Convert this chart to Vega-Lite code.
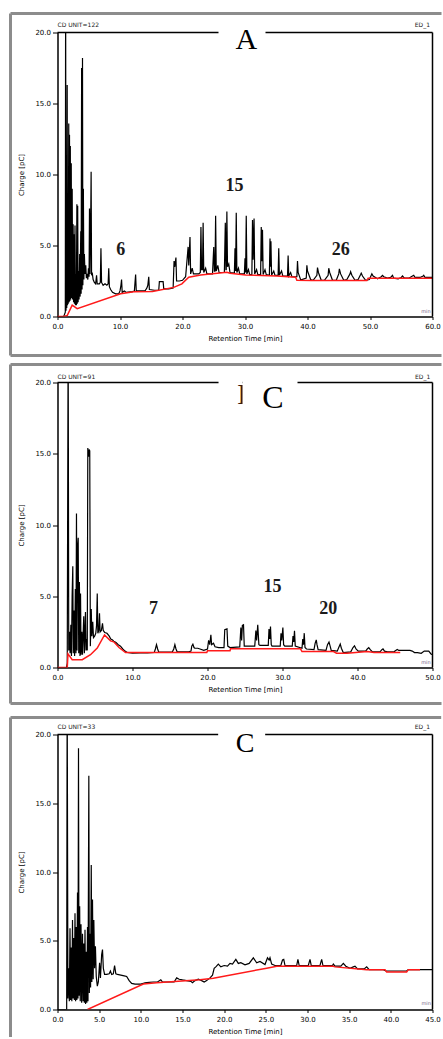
{
"$schema": "https://vega.github.io/schema/vega-lite/v6.json",
"background": "white",
"padding": {"left": 8.5, "top": 11.5, "right": 0, "bottom": 0},
"autosize": {"type": "pad"},
"data": {"values": [{"one": 1}]},
"config": {
 "view": {"stroke": null},
 "axis": {"domainColor": "black", "domainWidth": 1.5, "tickColor": "black", "tickWidth": 1, "labelColor": "black", "labelFont": "DejaVu Sans", "labelFontSize": 7, "titleFont": "DejaVu Sans", "titleFontSize": 7, "titleFontWeight": "normal", "titleColor": "black", "grid": false, "labelOverlap": false, "labelFlush": false}
},
"datasets": {
 "sigA": [{"t":0,"v":0},{"t":1.0,"v":0},{"t":1.25,"v":0.3},{"t":1.3,"v":24},{"t":1.36,"v":0.4},{"t":1.42,"v":2.5},{"t":1.48,"v":0.6},{"t":1.55,"v":16.3},{"t":1.6,"v":0.8},{"t":1.66,"v":2.8},{"t":1.72,"v":0.9},{"t":1.8,"v":13.6},{"t":1.86,"v":1.0},{"t":1.92,"v":12.8},{"t":1.98,"v":1.1},{"t":2.05,"v":12.0},{"t":2.12,"v":1.2},{"t":2.2,"v":10.8},{"t":2.27,"v":1.3},{"t":2.35,"v":9.0},{"t":2.42,"v":1.2},{"t":2.5,"v":6.5},{"t":2.57,"v":1.0},{"t":2.64,"v":5.8},{"t":2.71,"v":0.9},{"t":2.8,"v":6.4},{"t":2.87,"v":0.8},{"t":2.95,"v":3.0},{"t":3.02,"v":0.8},{"t":3.1,"v":7.9},{"t":3.16,"v":0.9},{"t":3.23,"v":7.8},{"t":3.3,"v":1.0},{"t":3.38,"v":3.2},{"t":3.45,"v":1.2},{"t":3.55,"v":4.4},{"t":3.62,"v":1.4},{"t":3.72,"v":6.0},{"t":3.78,"v":1.6},{"t":3.86,"v":17.5},{"t":3.93,"v":1.9},{"t":4.0,"v":18.2},{"t":4.06,"v":2.2},{"t":4.14,"v":9.0},{"t":4.22,"v":2.6},{"t":4.3,"v":4.4},{"t":4.4,"v":3.0},{"t":4.52,"v":3.6},{"t":4.62,"v":2.7},{"t":4.75,"v":3.0},{"t":4.85,"v":2.6},{"t":4.95,"v":3.4},{"t":5.05,"v":2.8},{"t":5.12,"v":7.6},{"t":5.2,"v":3.0},{"t":5.3,"v":6.2},{"t":5.38,"v":10.2},{"t":5.45,"v":2.9},{"t":5.55,"v":3.1},{"t":5.7,"v":2.6},{"t":5.9,"v":2.4},{"t":6.1,"v":2.3},{"t":6.25,"v":2.9},{"t":6.35,"v":2.3},{"t":6.7,"v":2.3},{"t":6.85,"v":2.4},{"t":6.95,"v":4.8},{"t":7.05,"v":2.4},{"t":7.3,"v":2.2},{"t":7.6,"v":2.3},{"t":7.9,"v":2.2},{"t":8.1,"v":2.3},{"t":8.2,"v":3.4},{"t":8.3,"v":2.1},{"t":8.5,"v":1.9},{"t":8.8,"v":1.7},{"t":9.3,"v":1.6},{"t":9.8,"v":1.6},{"t":10.0,"v":1.8},{"t":10.15,"v":2.2},{"t":10.25,"v":2.6},{"t":10.35,"v":1.7},{"t":10.7,"v":1.8},{"t":11.0,"v":1.7},{"t":12.0,"v":1.75},{"t":12.3,"v":1.8},{"t":12.4,"v":2.4},{"t":12.5,"v":2.95},{"t":12.6,"v":1.8},{"t":13.2,"v":1.8},{"t":14.0,"v":1.8},{"t":14.3,"v":2.0},{"t":14.45,"v":2.2},{"t":14.6,"v":2.8},{"t":14.7,"v":1.9},{"t":15.5,"v":1.85},{"t":16.2,"v":1.85},{"t":16.3,"v":2.45},{"t":16.9,"v":2.45},{"t":17.0,"v":1.95},{"t":17.8,"v":1.95},{"t":18.5,"v":2.0},{"t":18.65,"v":3.9},{"t":18.75,"v":3.5},{"t":18.95,"v":4.15},{"t":19.05,"v":2.5},{"t":19.5,"v":2.5},{"t":20.0,"v":2.55},{"t":20.5,"v":2.8},{"t":20.9,"v":4.9},{"t":21.0,"v":3.6},{"t":21.2,"v":5.6},{"t":21.3,"v":3.0},{"t":21.55,"v":3.4},{"t":21.75,"v":3.0},{"t":22.6,"v":3.0},{"t":22.85,"v":3.1},{"t":22.95,"v":6.3},{"t":23.05,"v":3.3},{"t":23.2,"v":3.3},{"t":23.3,"v":6.6},{"t":23.4,"v":3.1},{"t":23.7,"v":3.4},{"t":23.9,"v":3.0},{"t":24.8,"v":3.0},{"t":25.0,"v":4.9},{"t":25.1,"v":3.2},{"t":25.2,"v":3.2},{"t":25.3,"v":7.1},{"t":25.4,"v":3.2},{"t":25.65,"v":3.6},{"t":25.85,"v":3.1},{"t":26.7,"v":3.1},{"t":26.85,"v":6.6},{"t":26.95,"v":3.3},{"t":27.0,"v":3.3},{"t":27.1,"v":7.4},{"t":27.2,"v":3.5},{"t":27.4,"v":3.7},{"t":27.6,"v":3.1},{"t":28.3,"v":3.05},{"t":28.4,"v":4.8},{"t":28.5,"v":3.2},{"t":28.6,"v":7.3},{"t":28.7,"v":3.1},{"t":28.95,"v":3.4},{"t":29.15,"v":3.0},{"t":29.9,"v":3.0},{"t":30.0,"v":4.1},{"t":30.1,"v":3.1},{"t":30.2,"v":7.1},{"t":30.3,"v":3.0},{"t":30.55,"v":3.3},{"t":30.75,"v":2.95},{"t":31.1,"v":2.95},{"t":31.2,"v":6.8},{"t":31.3,"v":4.0},{"t":31.45,"v":6.9},{"t":31.55,"v":3.0},{"t":31.85,"v":3.3},{"t":32.05,"v":2.95},{"t":32.5,"v":2.95},{"t":32.6,"v":6.3},{"t":32.7,"v":3.9},{"t":32.8,"v":6.1},{"t":32.9,"v":2.95},{"t":33.2,"v":3.3},{"t":33.4,"v":2.95},{"t":33.9,"v":2.9},{"t":34.0,"v":5.5},{"t":34.1,"v":3.5},{"t":34.15,"v":5.3},{"t":34.25,"v":2.9},{"t":34.6,"v":3.2},{"t":34.8,"v":2.9},{"t":35.3,"v":2.9},{"t":35.4,"v":4.8},{"t":35.5,"v":2.9},{"t":35.85,"v":3.2},{"t":36.05,"v":2.85},{"t":36.8,"v":2.85},{"t":36.9,"v":4.3},{"t":37.0,"v":2.85},{"t":37.3,"v":3.1},{"t":37.5,"v":2.8},{"t":38.3,"v":2.8},{"t":38.4,"v":3.9},{"t":38.5,"v":3.1},{"t":38.9,"v":2.6},{"t":39.1,"v":2.6},{"t":39.8,"v":2.7},{"t":39.9,"v":3.6},{"t":40.0,"v":3.2},{"t":40.5,"v":2.6},{"t":40.9,"v":2.55},{"t":41.5,"v":2.9},{"t":41.6,"v":3.45},{"t":41.75,"v":3.1},{"t":42.2,"v":2.55},{"t":42.7,"v":2.55},{"t":43.3,"v":2.9},{"t":43.4,"v":3.4},{"t":43.55,"v":3.1},{"t":44.0,"v":2.55},{"t":44.6,"v":2.55},{"t":45.0,"v":3.0},{"t":45.1,"v":3.35},{"t":45.3,"v":3.0},{"t":45.8,"v":2.55},{"t":46.3,"v":2.6},{"t":46.8,"v":3.0},{"t":46.9,"v":3.15},{"t":47.1,"v":2.9},{"t":47.6,"v":2.55},{"t":48.1,"v":2.6},{"t":48.5,"v":2.95},{"t":48.6,"v":3.05},{"t":48.8,"v":2.85},{"t":49.3,"v":2.55},{"t":49.9,"v":2.6},{"t":50.2,"v":2.9},{"t":50.3,"v":3.0},{"t":50.5,"v":2.85},{"t":51.2,"v":2.65},{"t":51.8,"v":2.8},{"t":52.0,"v":2.9},{"t":52.2,"v":2.8},{"t":52.8,"v":2.7},{"t":53.3,"v":2.75},{"t":53.6,"v":2.9},{"t":53.8,"v":2.7},{"t":54.5,"v":2.65},{"t":55.0,"v":2.75},{"t":55.2,"v":2.85},{"t":55.5,"v":2.7},{"t":56.2,"v":2.7},{"t":56.8,"v":2.85},{"t":57.0,"v":2.9},{"t":57.2,"v":2.75},{"t":58.0,"v":2.75},{"t":58.5,"v":2.85},{"t":58.6,"v":2.9},{"t":58.8,"v":2.75},{"t":59.5,"v":2.75},{"t":60,"v":2.75}],
 "baseA": [{"t":0,"v":0},{"t":1.0,"v":0},{"t":1.55,"v":0.07},{"t":2.35,"v":0.8},{"t":3.15,"v":0.55},{"t":10.1,"v":1.6},{"t":12.2,"v":1.75},{"t":15.2,"v":1.76},{"t":18.6,"v":2.05},{"t":19.9,"v":2.3},{"t":21.0,"v":2.77},{"t":22.9,"v":2.93},{"t":27.1,"v":3.12},{"t":27.6,"v":3.05},{"t":30.1,"v":2.93},{"t":35.1,"v":2.85},{"t":38.1,"v":2.77},{"t":38.3,"v":2.55},{"t":40.7,"v":2.53},{"t":49.5,"v":2.53},{"t":49.7,"v":2.7},{"t":52.2,"v":2.7},{"t":60,"v":2.7}],
 "labA": [{"t":28.3,"v":8.87,"label":"15"},{"t":10.1,"v":4.3,"label":"6"},{"t":45.3,"v":4.3,"label":"26"}],
 "sigB": [{"t":0,"v":0},{"t":1.2,"v":0},{"t":1.3,"v":0.3},{"t":1.42,"v":24},{"t":1.5,"v":1.2},{"t":1.6,"v":2.5},{"t":1.68,"v":1.0},{"t":1.78,"v":3.0},{"t":1.86,"v":0.8},{"t":1.95,"v":5.0},{"t":2.04,"v":7.1},{"t":2.1,"v":1.0},{"t":2.2,"v":4.0},{"t":2.28,"v":0.8},{"t":2.38,"v":5.5},{"t":2.46,"v":1.0},{"t":2.53,"v":10.8},{"t":2.6,"v":1.2},{"t":2.68,"v":8.5},{"t":2.76,"v":9.1},{"t":2.83,"v":1.0},{"t":2.92,"v":6.0},{"t":3.0,"v":0.8},{"t":3.07,"v":5.2},{"t":3.14,"v":0.9},{"t":3.25,"v":2.5},{"t":3.33,"v":0.9},{"t":3.5,"v":3.6},{"t":3.58,"v":1.0},{"t":3.73,"v":3.9},{"t":3.8,"v":1.2},{"t":3.9,"v":2.0},{"t":3.97,"v":1.2},{"t":4.04,"v":15.4},{"t":4.15,"v":14.8},{"t":4.22,"v":15.3},{"t":4.3,"v":15.2},{"t":4.38,"v":1.5},{"t":4.5,"v":4.1},{"t":4.58,"v":2.2},{"t":4.7,"v":3.2},{"t":4.8,"v":2.1},{"t":4.95,"v":2.2},{"t":5.1,"v":2.4},{"t":5.2,"v":2.9},{"t":5.3,"v":5.2},{"t":5.38,"v":2.4},{"t":5.5,"v":2.6},{"t":5.6,"v":3.8},{"t":5.68,"v":2.5},{"t":5.85,"v":2.6},{"t":6.0,"v":3.1},{"t":6.1,"v":2.6},{"t":6.3,"v":2.45},{"t":6.6,"v":2.4},{"t":6.9,"v":2.2},{"t":7.1,"v":2.0},{"t":7.3,"v":1.95},{"t":7.5,"v":1.85},{"t":7.8,"v":1.75},{"t":8.1,"v":1.6},{"t":8.4,"v":1.5},{"t":8.7,"v":1.3},{"t":9.0,"v":1.15},{"t":9.3,"v":1.05},{"t":10.0,"v":1.0},{"t":11.0,"v":1.02},{"t":12.0,"v":1.02},{"t":12.9,"v":1.05},{"t":13.05,"v":1.3},{"t":13.2,"v":1.6},{"t":13.35,"v":1.3},{"t":13.5,"v":1.08},{"t":15.3,"v":1.08},{"t":15.5,"v":1.3},{"t":15.65,"v":1.6},{"t":15.8,"v":1.3},{"t":15.95,"v":1.1},{"t":17.5,"v":1.1},{"t":17.8,"v":1.15},{"t":17.9,"v":1.5},{"t":18.05,"v":1.64},{"t":18.2,"v":1.4},{"t":18.3,"v":1.35},{"t":18.7,"v":1.35},{"t":19.0,"v":1.3},{"t":19.5,"v":1.2},{"t":20.0,"v":1.3},{"t":20.15,"v":1.9},{"t":20.3,"v":1.6},{"t":20.45,"v":2.29},{"t":20.55,"v":1.6},{"t":20.8,"v":1.7},{"t":21.0,"v":1.45},{"t":21.5,"v":1.4},{"t":22.2,"v":1.4},{"t":22.3,"v":2.65},{"t":22.6,"v":2.71},{"t":22.7,"v":1.5},{"t":23.0,"v":1.4},{"t":24.3,"v":1.45},{"t":24.45,"v":2.8},{"t":24.55,"v":1.9},{"t":24.65,"v":2.95},{"t":24.8,"v":3.0},{"t":24.9,"v":1.5},{"t":25.0,"v":1.5},{"t":26.3,"v":1.5},{"t":26.45,"v":2.6},{"t":26.55,"v":1.9},{"t":26.7,"v":3.0},{"t":26.85,"v":1.6},{"t":27.0,"v":1.55},{"t":28.1,"v":1.55},{"t":28.2,"v":2.7},{"t":28.3,"v":2.0},{"t":28.4,"v":2.88},{"t":28.5,"v":1.6},{"t":28.6,"v":1.5},{"t":29.7,"v":1.5},{"t":29.8,"v":2.4},{"t":29.9,"v":1.9},{"t":30.05,"v":2.8},{"t":30.15,"v":1.6},{"t":30.3,"v":1.5},{"t":31.3,"v":1.5},{"t":31.4,"v":2.2},{"t":31.5,"v":1.8},{"t":31.6,"v":2.57},{"t":31.7,"v":1.5},{"t":32.6,"v":1.35},{"t":32.7,"v":2.0},{"t":32.8,"v":1.6},{"t":32.9,"v":2.41},{"t":33.0,"v":1.4},{"t":33.2,"v":1.3},{"t":34.2,"v":1.25},{"t":34.35,"v":1.7},{"t":34.5,"v":1.94},{"t":34.6,"v":1.6},{"t":34.75,"v":1.25},{"t":35.8,"v":1.2},{"t":36.0,"v":1.6},{"t":36.2,"v":1.78},{"t":36.35,"v":1.5},{"t":36.5,"v":1.2},{"t":37.3,"v":1.15},{"t":37.5,"v":1.4},{"t":37.7,"v":1.64},{"t":37.85,"v":1.35},{"t":38.1,"v":1.05},{"t":39.1,"v":1.1},{"t":39.4,"v":1.4},{"t":39.6,"v":1.52},{"t":39.8,"v":1.3},{"t":40.1,"v":1.15},{"t":41.1,"v":1.15},{"t":41.3,"v":1.3},{"t":41.5,"v":1.4},{"t":41.7,"v":1.25},{"t":42.0,"v":1.1},{"t":43.0,"v":1.1},{"t":43.25,"v":1.25},{"t":43.4,"v":1.31},{"t":43.6,"v":1.15},{"t":44.0,"v":1.1},{"t":44.9,"v":1.12},{"t":45.1,"v":1.2},{"t":45.3,"v":1.26},{"t":45.5,"v":1.2},{"t":46.2,"v":1.2},{"t":47.0,"v":1.2},{"t":47.3,"v":1.15},{"t":47.6,"v":1.05},{"t":48.0,"v":1.05},{"t":48.5,"v":1.0},{"t":48.9,"v":1.15},{"t":49.5,"v":1.15},{"t":49.8,"v":0.95},{"t":50,"v":0.9}],
 "baseB": [{"t":0,"v":0},{"t":1.3,"v":0},{"t":1.4,"v":0.96},{"t":1.96,"v":0.55},{"t":3.3,"v":0.55},{"t":4.4,"v":0.9},{"t":5.3,"v":1.36},{"t":6.27,"v":2.29},{"t":7.07,"v":1.87},{"t":7.5,"v":1.8},{"t":8.2,"v":1.4},{"t":9.07,"v":1.05},{"t":12.4,"v":1.05},{"t":19.9,"v":1.05},{"t":20.0,"v":1.17},{"t":23.0,"v":1.17},{"t":23.07,"v":1.31},{"t":32.4,"v":1.31},{"t":32.6,"v":1.12},{"t":36.8,"v":1.12},{"t":37.2,"v":1.0},{"t":38.6,"v":1.0},{"t":41.3,"v":1.12},{"t":42.2,"v":1.05},{"t":45.7,"v":1.05}],
 "labB": [{"t":28.67,"v":5.33,"label":"15"},{"t":12.8,"v":3.72,"label":"7"},{"t":36.1,"v":3.72,"label":"20"}],
 "sigC": [{"t":0,"v":0},{"t":1.1,"v":0},{"t":1.16,"v":24},{"t":1.25,"v":0.8},{"t":1.35,"v":3.0},{"t":1.42,"v":0.6},{"t":1.5,"v":5.9},{"t":1.57,"v":0.7},{"t":1.65,"v":4.5},{"t":1.72,"v":0.6},{"t":1.8,"v":6.5},{"t":1.87,"v":0.8},{"t":1.95,"v":5.2},{"t":2.02,"v":0.7},{"t":2.1,"v":7.0},{"t":2.17,"v":0.6},{"t":2.25,"v":6.0},{"t":2.32,"v":0.7},{"t":2.4,"v":8.5},{"t":2.46,"v":0.8},{"t":2.52,"v":19.0},{"t":2.58,"v":1.0},{"t":2.66,"v":7.5},{"t":2.73,"v":0.6},{"t":2.82,"v":6.2},{"t":2.9,"v":0.5},{"t":3.0,"v":5.5},{"t":3.07,"v":0.6},{"t":3.15,"v":4.8},{"t":3.22,"v":0.5},{"t":3.3,"v":5.8},{"t":3.37,"v":0.4},{"t":3.45,"v":4.2},{"t":3.52,"v":0.5},{"t":3.6,"v":6.0},{"t":3.66,"v":0.6},{"t":3.76,"v":17.0},{"t":3.82,"v":1.2},{"t":3.9,"v":5.5},{"t":3.97,"v":1.6},{"t":4.05,"v":10.5},{"t":4.12,"v":2.0},{"t":4.2,"v":8.0},{"t":4.28,"v":2.2},{"t":4.36,"v":6.5},{"t":4.45,"v":3.0},{"t":4.55,"v":4.6},{"t":4.65,"v":2.4},{"t":4.78,"v":1.7},{"t":4.9,"v":2.0},{"t":5.05,"v":3.4},{"t":5.15,"v":2.3},{"t":5.3,"v":4.0},{"t":5.4,"v":4.36},{"t":5.5,"v":3.0},{"t":5.65,"v":2.55},{"t":5.9,"v":2.55},{"t":6.2,"v":2.6},{"t":6.35,"v":2.8},{"t":6.5,"v":2.55},{"t":6.7,"v":2.6},{"t":6.85,"v":3.2},{"t":7.0,"v":2.6},{"t":7.2,"v":2.55},{"t":7.6,"v":2.5},{"t":8.0,"v":2.45},{"t":8.3,"v":2.4},{"t":8.6,"v":2.1},{"t":8.9,"v":1.9},{"t":9.3,"v":1.85},{"t":10.0,"v":1.85},{"t":10.5,"v":1.94},{"t":11.0,"v":1.97},{"t":11.5,"v":2.0},{"t":12.0,"v":2.0},{"t":12.4,"v":2.16},{"t":12.6,"v":2.0},{"t":13.2,"v":2.0},{"t":14.0,"v":2.0},{"t":14.3,"v":2.3},{"t":14.6,"v":2.2},{"t":15.0,"v":2.15},{"t":15.5,"v":2.1},{"t":16.0,"v":2.05},{"t":16.2,"v":1.95},{"t":16.5,"v":2.1},{"t":16.9,"v":2.2},{"t":17.3,"v":2.1},{"t":17.6,"v":2.0},{"t":17.9,"v":2.1},{"t":18.3,"v":2.3},{"t":18.6,"v":2.5},{"t":18.8,"v":3.0},{"t":19.0,"v":3.1},{"t":19.3,"v":3.3},{"t":19.6,"v":3.1},{"t":20.0,"v":3.2},{"t":20.4,"v":3.15},{"t":20.7,"v":3.35},{"t":21.0,"v":3.3},{"t":21.4,"v":3.64},{"t":21.7,"v":3.35},{"t":22.0,"v":3.4},{"t":22.5,"v":3.25},{"t":23.0,"v":3.35},{"t":23.5,"v":3.76},{"t":23.9,"v":3.4},{"t":24.3,"v":3.5},{"t":24.9,"v":3.27},{"t":25.2,"v":3.76},{"t":25.4,"v":3.6},{"t":25.5,"v":3.76},{"t":25.7,"v":3.3},{"t":26.1,"v":3.2},{"t":26.8,"v":3.2},{"t":27.0,"v":3.6},{"t":27.15,"v":3.64},{"t":27.3,"v":3.2},{"t":27.9,"v":3.2},{"t":28.7,"v":3.2},{"t":28.85,"v":3.64},{"t":29.0,"v":3.2},{"t":29.5,"v":3.2},{"t":30.1,"v":3.2},{"t":30.3,"v":3.64},{"t":30.45,"v":3.2},{"t":30.9,"v":3.2},{"t":31.5,"v":3.2},{"t":31.7,"v":3.64},{"t":31.85,"v":3.2},{"t":32.3,"v":3.2},{"t":33.0,"v":3.2},{"t":33.1,"v":3.3},{"t":33.3,"v":3.15},{"t":34.0,"v":3.15},{"t":34.3,"v":3.35},{"t":34.6,"v":3.15},{"t":35.1,"v":3.0},{"t":35.5,"v":3.1},{"t":35.7,"v":3.15},{"t":36.0,"v":2.95},{"t":36.8,"v":2.95},{"t":37.1,"v":3.1},{"t":37.4,"v":2.9},{"t":38.0,"v":2.9},{"t":39.1,"v":2.9},{"t":39.4,"v":2.8},{"t":41.9,"v":2.8},{"t":42.1,"v":2.9},{"t":43.5,"v":2.9},{"t":45.0,"v":2.9}],
 "baseC": [{"t":3.6,"v":0},{"t":10.3,"v":1.85},{"t":11.9,"v":1.94},{"t":17.1,"v":2.16},{"t":18.7,"v":2.28},{"t":25.1,"v":3.0},{"t":26.3,"v":3.15},{"t":33.1,"v":3.15},{"t":33.3,"v":3.1},{"t":37.1,"v":2.9},{"t":39.3,"v":2.9},{"t":39.5,"v":2.73},{"t":41.9,"v":2.73},{"t":42.1,"v":2.9},{"t":43.5,"v":2.9}]
},
"spacing": 10,
"vconcat": [
{
 "spacing": 5,
 "vconcat": [
 {
  "width": 375, "height": 284,
  "layer": [
   {"data": {"name": "sigA"}, "mark": {"type": "line", "color": "black", "strokeWidth": 1.2, "clip": true},
    "encoding": {
     "x": {"field": "t", "type": "quantitative", "scale": {"domain": [0, 60], "nice": false, "zero": false},
       "axis": {"title": "Retention Time [min]", "values": [0,5,10,15,20,25,30,35,40,45,50,55,60], "labelExpr": "datum.value % 10 === 0 ? format(datum.value, '.1f') : ''", "tickSize": 3, "labelPadding": 3, "titlePadding": 5}},
     "y": {"field": "v", "type": "quantitative", "scale": {"domain": [0, 20], "nice": false},
       "axis": {"title": "Charge [pC]", "values": [0,5,10,15,20], "format": ".1f", "tickSize": 5, "labelPadding": 2, "titlePadding": 10}}}},
   {"data": {"name": "baseA"}, "mark": {"type": "line", "color": "#ff1a1a", "strokeWidth": 1.5, "clip": true}, "encoding": {"x": {"field": "t", "type": "quantitative"}, "y": {"field": "v", "type": "quantitative"}}},
   {"mark": {"type": "rule", "color": "#8c8c8c", "strokeWidth": 3}, "encoding": {"x": {"datum": -7.52, "type": "quantitative"}, "y": {"datum": 21.34, "type": "quantitative"}, "y2": {"datum": -2.75}}},
   {"mark": {"type": "rule", "color": "#8c8c8c", "strokeWidth": 3}, "encoding": {"x": {"datum": -7.52, "type": "quantitative"}, "x2": {"datum": 61.44}, "y": {"datum": 21.34, "type": "quantitative"}}},
   {"mark": {"type": "rule", "color": "#8c8c8c", "strokeWidth": 3}, "encoding": {"x": {"datum": -7.52, "type": "quantitative"}, "x2": {"datum": 61.44}, "y": {"datum": -2.75, "type": "quantitative"}}},
   {"mark": {"type": "rule", "color": "black", "strokeWidth": 1.5}, "encoding": {"x": {"datum": 0, "type": "quantitative"}, "x2": {"datum": 60}, "y": {"datum": 20, "type": "quantitative"}}},
   {"mark": {"type": "rule", "color": "black", "strokeWidth": 1.5}, "encoding": {"x": {"datum": 60, "type": "quantitative"}, "y": {"datum": 0, "type": "quantitative"}, "y2": {"datum": 20}}},
   {"mark": {"type": "rect", "color": "white"}, "encoding": {"x": {"datum": 25.76, "type": "quantitative"}, "x2": {"datum": 33.28}, "y": {"datum": 19.6, "type": "quantitative"}, "y2": {"datum": 20.4}}},
   {"mark": {"type": "text", "font": "Liberation Serif", "fontSize": 30, "color": "black", "align": "center", "baseline": "alphabetic"}, "encoding": {"x": {"datum": 30.2, "type": "quantitative"}, "y": {"datum": 18.87, "type": "quantitative"}, "text": {"value": "A"}}},
   {"data": {"name": "labA"}, "mark": {"type": "text", "font": "Liberation Serif", "fontSize": 18, "fontWeight": "bold", "color": "#1b1b1b", "align": "center", "baseline": "alphabetic"}, "encoding": {"x": {"field": "t", "type": "quantitative"}, "y": {"field": "v", "type": "quantitative"}, "text": {"field": "label"}}},
   {"mark": {"type": "text", "font": "DejaVu Sans", "fontSize": 6, "color": "#222", "align": "left", "baseline": "middle"}, "encoding": {"x": {"datum": 0, "type": "quantitative"}, "y": {"datum": 20.56, "type": "quantitative"}, "text": {"value": "CD UNIT=122"}}},
   {"mark": {"type": "text", "font": "DejaVu Sans", "fontSize": 6, "color": "#222", "align": "right", "baseline": "middle"}, "encoding": {"x": {"datum": 59.6, "type": "quantitative"}, "y": {"datum": 20.56, "type": "quantitative"}, "text": {"value": "ED_1"}}},
   {"mark": {"type": "text", "font": "DejaVu Sans", "fontSize": 5, "color": "#776688", "align": "right", "baseline": "middle"}, "encoding": {"x": {"datum": 59.7, "type": "quantitative"}, "y": {"datum": 0.42, "type": "quantitative"}, "text": {"value": "min"}}}
  ]
 },
 {
  "width": 375, "height": 285,
  "layer": [
   {"data": {"name": "sigB"}, "mark": {"type": "line", "color": "black", "strokeWidth": 1.2, "clip": true},
    "encoding": {
     "x": {"field": "t", "type": "quantitative", "scale": {"domain": [0, 50], "nice": false, "zero": false},
       "axis": {"title": "Retention Time [min]", "values": [0,5,10,15,20,25,30,35,40,45,50], "labelExpr": "datum.value % 10 === 0 ? format(datum.value, '.1f') : ''", "tickSize": 3, "labelPadding": 3, "titlePadding": 5}},
     "y": {"field": "v", "type": "quantitative", "scale": {"domain": [0, 20], "nice": false},
       "axis": {"title": "Charge [pC]", "values": [0,5,10,15,20], "format": ".1f", "tickSize": 5, "labelPadding": 2, "titlePadding": 10}}}},
   {"data": {"name": "baseB"}, "mark": {"type": "line", "color": "#ff1a1a", "strokeWidth": 1.5, "clip": true}, "encoding": {"x": {"field": "t", "type": "quantitative"}, "y": {"field": "v", "type": "quantitative"}}},
   {"mark": {"type": "rule", "color": "#8c8c8c", "strokeWidth": 3}, "encoding": {"x": {"datum": -6.267, "type": "quantitative"}, "y": {"datum": 21.26, "type": "quantitative"}, "y2": {"datum": -2.53}}},
   {"mark": {"type": "rule", "color": "#8c8c8c", "strokeWidth": 3}, "encoding": {"x": {"datum": -6.267, "type": "quantitative"}, "x2": {"datum": 51.2}, "y": {"datum": 21.26, "type": "quantitative"}}},
   {"mark": {"type": "rule", "color": "#8c8c8c", "strokeWidth": 3}, "encoding": {"x": {"datum": -6.267, "type": "quantitative"}, "x2": {"datum": 51.2}, "y": {"datum": -2.53, "type": "quantitative"}}},
   {"mark": {"type": "rule", "color": "black", "strokeWidth": 1.5}, "encoding": {"x": {"datum": 0, "type": "quantitative"}, "x2": {"datum": 50}, "y": {"datum": 20, "type": "quantitative"}}},
   {"mark": {"type": "rule", "color": "black", "strokeWidth": 1.5}, "encoding": {"x": {"datum": 50, "type": "quantitative"}, "y": {"datum": 0, "type": "quantitative"}, "y2": {"datum": 20}}},
   {"mark": {"type": "rect", "color": "white"}, "encoding": {"x": {"datum": 21.47, "type": "quantitative"}, "x2": {"datum": 24.67}, "y": {"datum": 19.6, "type": "quantitative"}, "y2": {"datum": 20.4}}},
   {"mark": {"type": "text", "font": "Liberation Serif", "fontSize": 30, "color": "#3a1c10", "align": "center", "baseline": "alphabetic"}, "encoding": {"x": {"datum": 25.3, "type": "quantitative"}, "y": {"datum": 18.46, "type": "quantitative"}, "text": {"value": "B"}}},
   {"mark": {"type": "rect", "color": "white"}, "encoding": {"x": {"datum": 24.67, "type": "quantitative"}, "x2": {"datum": 32.0}, "y": {"datum": 17.96, "type": "quantitative"}, "y2": {"datum": 21.12}}},
   {"mark": {"type": "text", "font": "Liberation Serif", "fontSize": 32, "color": "black", "align": "center", "baseline": "alphabetic"}, "encoding": {"x": {"datum": 28.73, "type": "quantitative"}, "y": {"datum": 18.18, "type": "quantitative"}, "text": {"value": "C"}}},
   {"data": {"name": "labB"}, "mark": {"type": "text", "font": "Liberation Serif", "fontSize": 18, "fontWeight": "bold", "color": "#1b1b1b", "align": "center", "baseline": "alphabetic"}, "encoding": {"x": {"field": "t", "type": "quantitative"}, "y": {"field": "v", "type": "quantitative"}, "text": {"field": "label"}}},
   {"mark": {"type": "text", "font": "DejaVu Sans", "fontSize": 6, "color": "#222", "align": "left", "baseline": "middle"}, "encoding": {"x": {"datum": 0, "type": "quantitative"}, "y": {"datum": 20.42, "type": "quantitative"}, "text": {"value": "CD UNIT=91"}}},
   {"mark": {"type": "text", "font": "DejaVu Sans", "fontSize": 6, "color": "#222", "align": "right", "baseline": "middle"}, "encoding": {"x": {"datum": 49.7, "type": "quantitative"}, "y": {"datum": 20.42, "type": "quantitative"}, "text": {"value": "ED_1"}}},
   {"mark": {"type": "text", "font": "DejaVu Sans", "fontSize": 5, "color": "#776688", "align": "right", "baseline": "middle"}, "encoding": {"x": {"datum": 49.75, "type": "quantitative"}, "y": {"datum": 0.42, "type": "quantitative"}, "text": {"value": "min"}}}
  ]
 }
 ]
},
{
 "width": 375, "height": 275,
 "layer": [
  {"data": {"name": "sigC"}, "mark": {"type": "line", "color": "black", "strokeWidth": 1.2, "clip": true},
   "encoding": {
    "x": {"field": "t", "type": "quantitative", "scale": {"domain": [0, 45], "nice": false, "zero": false},
      "axis": {"title": "Retention Time [min]", "values": [0,5,10,15,20,25,30,35,40,45], "format": ".1f", "tickSize": 3, "labelPadding": 3, "titlePadding": 5}},
    "y": {"field": "v", "type": "quantitative", "scale": {"domain": [0, 20], "nice": false},
      "axis": {"title": "Charge [pC]", "values": [0,5,10,15,20], "format": ".1f", "tickSize": 5, "labelPadding": 2, "titlePadding": 10}}}},
  {"data": {"name": "baseC"}, "mark": {"type": "line", "color": "#ff1a1a", "strokeWidth": 1.5, "clip": true}, "encoding": {"x": {"field": "t", "type": "quantitative"}, "y": {"field": "v", "type": "quantitative"}}},
  {"mark": {"type": "rule", "color": "#8c8c8c", "strokeWidth": 3}, "encoding": {"x": {"datum": -5.64, "type": "quantitative"}, "y": {"datum": 21.24, "type": "quantitative"}, "y2": {"datum": -2.0}}},
  {"mark": {"type": "rule", "color": "#8c8c8c", "strokeWidth": 3}, "encoding": {"x": {"datum": -5.64, "type": "quantitative"}, "x2": {"datum": 46.04}, "y": {"datum": 21.24, "type": "quantitative"}}},
  {"mark": {"type": "rule", "color": "black", "strokeWidth": 1.5}, "encoding": {"x": {"datum": 0, "type": "quantitative"}, "x2": {"datum": 45}, "y": {"datum": 20, "type": "quantitative"}}},
  {"mark": {"type": "rule", "color": "black", "strokeWidth": 1.5}, "encoding": {"x": {"datum": 45, "type": "quantitative"}, "y": {"datum": 0, "type": "quantitative"}, "y2": {"datum": 20}}},
  {"mark": {"type": "rect", "color": "white"}, "encoding": {"x": {"datum": 19.28, "type": "quantitative"}, "x2": {"datum": 24.92}, "y": {"datum": 19.6, "type": "quantitative"}, "y2": {"datum": 20.4}}},
  {"mark": {"type": "text", "font": "Liberation Serif", "fontSize": 28, "color": "black", "align": "center", "baseline": "alphabetic"}, "encoding": {"x": {"datum": 22.5, "type": "quantitative"}, "y": {"datum": 18.76, "type": "quantitative"}, "text": {"value": "C"}}},
  {"mark": {"type": "text", "font": "DejaVu Sans", "fontSize": 6, "color": "#222", "align": "left", "baseline": "middle"}, "encoding": {"x": {"datum": 0, "type": "quantitative"}, "y": {"datum": 20.58, "type": "quantitative"}, "text": {"value": "CD UNIT=33"}}},
  {"mark": {"type": "text", "font": "DejaVu Sans", "fontSize": 6, "color": "#222", "align": "right", "baseline": "middle"}, "encoding": {"x": {"datum": 44.7, "type": "quantitative"}, "y": {"datum": 20.58, "type": "quantitative"}, "text": {"value": "ED_1"}}},
  {"mark": {"type": "text", "font": "DejaVu Sans", "fontSize": 5, "color": "#776688", "align": "right", "baseline": "middle"}, "encoding": {"x": {"datum": 44.8, "type": "quantitative"}, "y": {"datum": 0.5, "type": "quantitative"}, "text": {"value": "min"}}}
 ]
}
]
}
